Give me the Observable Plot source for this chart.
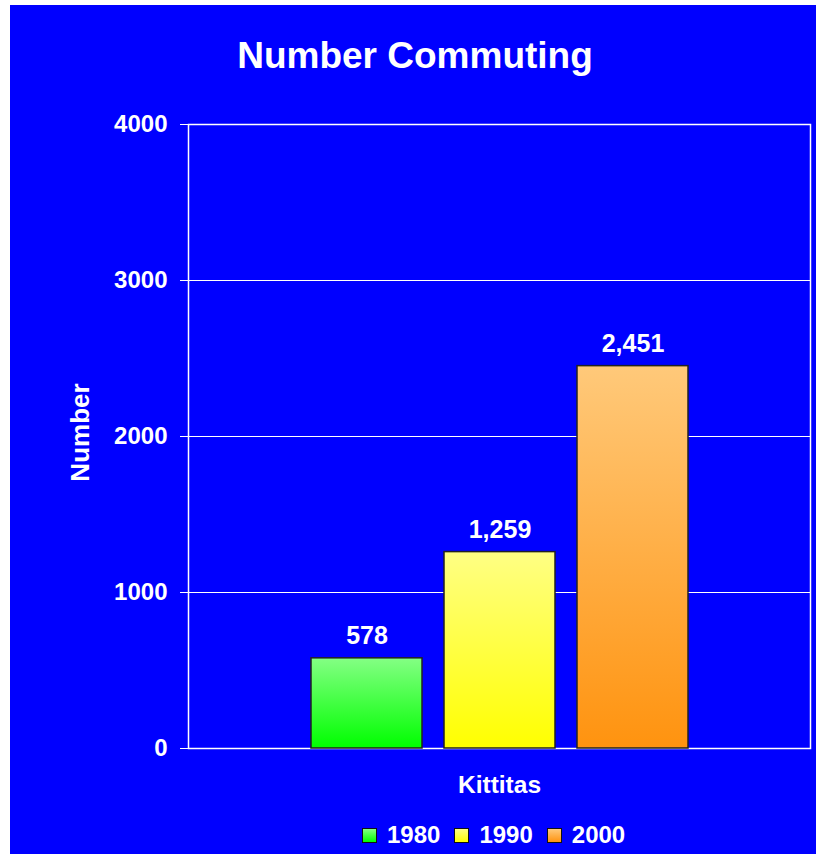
<!DOCTYPE html>
<html>
<head>
<meta charset="utf-8">
<script src="https://cdn.jsdelivr.net/npm/d3@7"></script>
<script src="https://cdn.jsdelivr.net/npm/@observablehq/plot@0.6"></script>
<style>
  html, body { margin: 0; padding: 0; background: #ffffff; }
  body { width: 816px; height: 854px; position: relative; overflow: hidden;
         font-family: "Liberation Sans", Arial, sans-serif; }
  #panel { position: absolute; left: 10px; top: 5px; width: 806px; height: 849px; background: #0000ff; }
  #title { position: absolute; left: 2px; top: 32px; width: 806px; text-align: center;
           color: #fff; font-weight: bold; font-size: 37px; line-height: 37px; }
  #chart { position: absolute; left: 0; top: 85px; }
  #legend { position: absolute; left: 352px; top: 818px; display: flex; align-items: center;
            color: #fff; font-weight: bold; font-size: 24px; line-height: 24px; }
  .sw { width: 13px; height: 13px; border: 1px solid #111; margin-right: 10px; }
  .lab { margin-right: 14px; }
</style>
</head>
<body>
<div id="panel">
  <div id="title">Number Commuting</div>
  <div id="chart"></div>
  <div id="legend"></div>
</div>
<script>
// ---- data ----
const counties = ["Kittitas"];
const years = ["1980", "1990", "2000"];
const commuters = [578, 1259, 2451];
const yTicks = [0, 1000, 2000, 3000, 4000];
const yLabel = "Number";

// ---- styles ----
const gradTop = {"1980": "#84ff84", "1990": "#ffff84", "2000": "#ffc97a"};
const gradBottom = {"1980": "#00ff00", "1990": "#ffff00", "2000": "#ff930f"};

const rows = years.map((y, i) => ({county: counties[0], year: y, value: commuters[i]}));
const fmt = d3.format(",");

const svg = Plot.plot({
  width: 806,
  height: 720,
  marginTop: 34,
  marginBottom: 62,
  marginLeft: 178,
  marginRight: 6,
  style: {background: "transparent", fontFamily: "'Liberation Sans', Arial, sans-serif", color: "#fff"},
  fx: {domain: counties, padding: 0},
  x: {domain: years, paddingInner: 0.169, paddingOuter: 0.914, axis: null},
  y: {domain: [0, 4000]},
  color: {domain: years, range: years.map(y => `url(#grad${y})`)},
  marks: [
    Plot.gridY(yTicks, {stroke: "#ffffff", strokeOpacity: 1, strokeWidth: 1.2}),
    Plot.frame({stroke: "#ffffff", strokeWidth: 1.5}),
    Plot.axisY({ticks: yTicks, tickFormat: d => String(d), tickSize: 8, tickPadding: 13,
      stroke: "#ffffff", fill: "#ffffff", fontSize: 24, fontWeight: "bold", label: null}),
    Plot.axisFx({anchor: "bottom", tickSize: 0, tickPadding: 27, label: null,
      fill: "#ffffff", fontSize: 24.5, fontWeight: "bold"}),
    Plot.barY(rows, {fx: "county", x: "year", y: "value", fill: "year", stroke: "#222", strokeWidth: 1.5}),
    Plot.text(rows, {fx: "county", x: "year", y: "value", text: d => fmt(d.value), dy: -14.5,
      lineAnchor: "bottom", fill: "#ffffff", fontSize: 25, fontWeight: "bold"}),
    Plot.text([yLabel], {frameAnchor: "left", dx: -108, dy: -4, rotate: -90, text: d => d,
      textAnchor: "middle", fill: "#ffffff", fontSize: 26, fontWeight: "bold"})
  ]
});

// gradient definitions for the bars
const ns = "http://www.w3.org/2000/svg";
const defs = document.createElementNS(ns, "defs");
years.forEach(y => {
  const g = document.createElementNS(ns, "linearGradient");
  g.setAttribute("id", `grad${y}`);
  g.setAttribute("x1", "0"); g.setAttribute("y1", "0");
  g.setAttribute("x2", "0"); g.setAttribute("y2", "1");
  [[0, gradTop[y]], [1, gradBottom[y]]].forEach(([o, c]) => {
    const s = document.createElementNS(ns, "stop");
    s.setAttribute("offset", o);
    s.setAttribute("stop-color", c);
    g.appendChild(s);
  });
  defs.appendChild(g);
});
svg.insertBefore(defs, svg.firstChild);
document.getElementById("chart").appendChild(svg);

// legend
const legend = document.getElementById("legend");
years.forEach(y => {
  const sw = document.createElement("div");
  sw.className = "sw";
  sw.style.background = `linear-gradient(${gradTop[y]}, ${gradBottom[y]})`;
  const lab = document.createElement("div");
  lab.className = "lab";
  lab.textContent = y;
  legend.appendChild(sw);
  legend.appendChild(lab);
});
</script>
</body>
</html>
